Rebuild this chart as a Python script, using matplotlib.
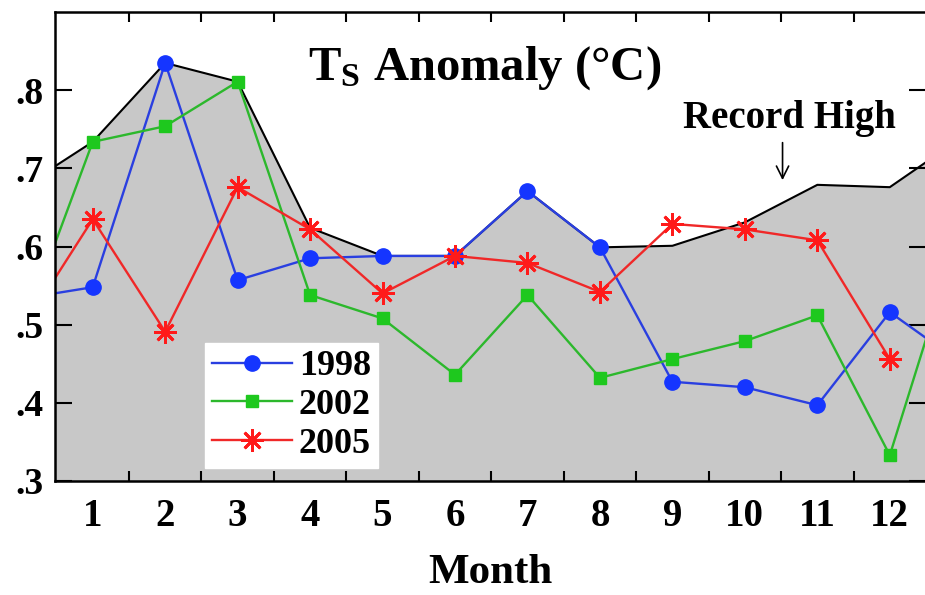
import numpy as np
import matplotlib
matplotlib.use("Agg")
import matplotlib.pyplot as plt

plt.rcParams['font.family'] = ['Liberation Serif', 'DejaVu Serif']
plt.rcParams['font.weight'] = 'bold'
plt.rcParams['mathtext.fontset'] = 'custom'
plt.rcParams['mathtext.rm'] = 'Liberation Serif:bold'
plt.rcParams['mathtext.it'] = 'Liberation Serif:bold'
plt.rcParams['mathtext.bf'] = 'Liberation Serif:bold'

# months 0 (previous Dec) .. 13 (next Jan), edges are clipped by the axes
months = np.arange(0, 14)
month_labels = [str(m) for m in range(1, 13)]

record_high = [0.674, 0.734, 0.835, 0.811, 0.624, 0.588, 0.588, 0.671,
               0.599, 0.601, 0.631, 0.679, 0.676, 0.740]
t1998 = [0.533, 0.548, 0.835, 0.557, 0.585, 0.588, 0.588, 0.671,
         0.599, 0.427, 0.420, 0.397, 0.516, 0.450]
t2002 = [0.484, 0.734, 0.754, 0.811, 0.538, 0.508, 0.436, 0.538,
         0.432, 0.456, 0.479, 0.512, 0.333, 0.630]
t2005 = [0.490, 0.635, 0.491, 0.676, 0.622, 0.540, 0.588, 0.579,
         0.542, 0.629, 0.622, 0.608, 0.456, np.nan]

fig = plt.figure(figsize=(9.25, 5.95), dpi=100)
ax = fig.add_axes([0.0595, 0.1916, 0.9416, 0.788])

ax.fill_between(months, 0.3, record_high, color='#c8c8c8', lw=0)
ax.plot(months, record_high, color='black', lw=1.5)

ax.plot(months, t1998, '-o', color='#2a3fe0', mfc='#1535ff', mec='#1535ff',
        ms=11, lw=1.7, label='1998')
ax.plot(months, t2002, '-s', color='#2cb82c', mfc='#1ec81e', mec='#1ec81e',
        ms=8, lw=1.7, label='2002')
ax.plot(months, t2005, '-', color='#f02828', marker=(8, 2, 0), mec='#ff1a1a',
        mew=2, ms=16, lw=1.7, label='2005')

ax.set_xlim(0.48, 12.5)
ax.set_ylim(0.3, 0.9)

# tick marks between months, labels on the months
ax.set_xticks(np.arange(1.5, 12.5, 1.0))
ax.set_xticklabels([])
ax.set_xticks(np.arange(1, 13), minor=True)
ax.set_xticklabels(month_labels, minor=True)
ax.tick_params(axis='x', which='major', direction='in', length=7, width=1.5,
               top=True, bottom=True)
ax.tick_params(axis='x', which='minor', length=0, pad=12, labelsize=28)

ax.set_yticks([0.3, 0.4, 0.5, 0.6, 0.7, 0.8])
ax.set_yticklabels(['.3', '.4', '.5', '.6', '.7', '.8'])
ax.tick_params(axis='y', direction='in', length=12, width=1.5, left=True,
               right=True, labelsize=27, pad=8)

for s in ax.spines.values():
    s.set_linewidth(1.8)

ax.set_xlabel('Month', fontsize=31, fontweight='bold', labelpad=14)

ax.text(6.41, 0.828, r'$\mathrm{T_S}$ Anomaly (°C)', fontsize=35,
        fontweight='bold', ha='center', va='center')

ax.text(10.62, 0.764, 'Record High', fontsize=28, fontweight='bold',
        ha='center', va='center')
ax.annotate('', xy=(10.52, 0.685), xytext=(10.52, 0.733),
            arrowprops=dict(arrowstyle='->', color='black', lw=1.2,
                            mutation_scale=22, shrinkA=0, shrinkB=0))

leg = ax.legend(loc='lower left', bbox_to_anchor=(0.172, 0.028), fontsize=26,
                frameon=True, fancybox=False, handlelength=2.2,
                handletextpad=0.2, borderpad=0.2, labelspacing=0.15,
                borderaxespad=0)
leg.get_frame().set_facecolor('white')
leg.get_frame().set_edgecolor('white')
leg.get_frame().set_alpha(1)

fig.savefig('out.png', dpi=100)
